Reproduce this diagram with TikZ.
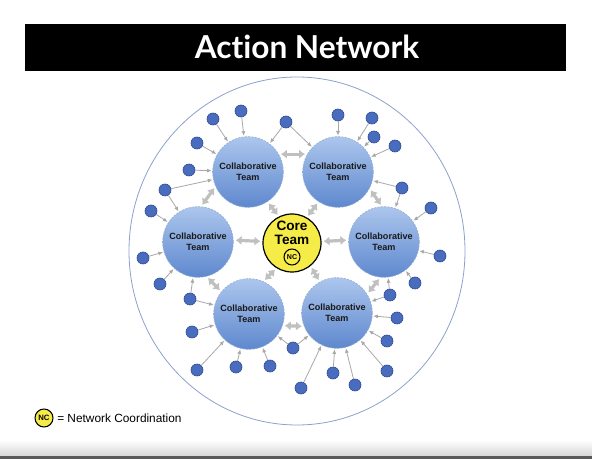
\documentclass[tikz,border=0pt]{standalone}
\usepackage{fontspec}
\setmainfont{Liberation Sans}
\newfontfamily\titlefont[Ligatures=NoCommon]{Lato}
\usetikzlibrary{arrows.meta}
\definecolor{teamtop}{RGB}{172,198,237}
\definecolor{teambot}{RGB}{94,136,206}
\definecolor{teamedge}{RGB}{150,176,216}
\definecolor{dotfill}{RGB}{74,108,190}
\definecolor{dotedge}{RGB}{46,76,146}
\definecolor{coreyellow}{RGB}{246,236,72}
\definecolor{linkgray}{RGB}{168,168,168}
\definecolor{biglinkgray}{RGB}{192,192,192}
\definecolor{ringblue}{RGB}{140,162,204}
\begin{document}
\begin{tikzpicture}[x=0.75pt,y=-0.75pt,
  team/.style={circle, minimum size=53pt, inner sep=0pt, top color=teamtop, bottom color=teambot,
    draw=teamedge, line width=0.5pt, dash pattern=on 1.5pt off 1pt, align=center,
    font=\fontsize{6.8pt}{7.9pt}\selectfont\bfseries, text=black!90},
  dotnode/.style={circle, minimum size=9pt, inner sep=0pt, fill=dotfill, draw=dotedge, line width=0.5pt},
  corenode/.style={circle, minimum size=43.5pt, inner sep=0pt, fill=coreyellow, draw=black, line width=0.9pt},
  ncnode/.style={circle, minimum size=12pt, inner sep=0pt, fill=coreyellow, draw=black, line width=0.8pt,
    font=\fontsize{5.3pt}{6pt}\selectfont\bfseries},
  link/.style={draw=linkgray, line width=0.6pt, -{Latex[length=3.5pt,width=3pt]}, shorten >=0.5pt},
  biglink/.style={draw=biglinkgray, line width=2.4pt, {Latex[length=4.5pt,width=7pt]}-{Latex[length=4.5pt,width=7pt]},
    shorten <=1.5pt, shorten >=1.5pt}
]
\useasboundingbox (0,0) rectangle (592,459);
\fill[white] (0,0) rectangle (592,459);
% screenshot bottom edge
\shade[top color=white, bottom color={rgb,255:red,214;green,214;blue,214}] (0,440) rectangle (592,456);
\fill[black!65] (0,456) rectangle (592,459);
% title bar
\fill[black] (25,24) rectangle (566,71);
\node[font=\titlefont\bfseries\fontsize{23.7pt}{26pt}\selectfont, text=white, anchor=base, inner sep=0pt] (title) at (307,59) {Action Network};
% outer ring
\draw[ringblue, line width=0.6pt, fill=white] (297,251) ellipse [x radius=168, y radius=174];
% teams
\node[team] (tl) at (248,172) {Collaborative\\Team};
\node[team] (tr) at (338,172) {Collaborative\\Team};
\node[team] (l)  at (198,242) {Collaborative\\Team};
\node[team] (r)  at (384,242) {Collaborative\\Team};
\node[team] (bl) at (249,314) {Collaborative\\Team};
\node[team] (br) at (337,313) {Collaborative\\Team};
% core
\node[corenode] (core) at (292,243) {};
\node[font=\fontsize{10.2pt}{10.6pt}\selectfont\bfseries, align=center, inner sep=0pt] (coretext) at (292,233) {Core\\Team};
\node[ncnode] (nc) at (292,257) {NC};
% dots
\foreach \n/\x/\y in {1/213/119, 2/241/111, 3/286/122, 4/197/143, 5/189/170, 6/165/190,
  7/151/211, 8/143/258, 9/160/284, 10/190/299, 11/192/332, 12/197/370, 13/236/367,
  14/270/366, 15/293/348, 16/301/388, 17/333/373, 18/355/385, 19/387/371, 20/387/341,
  21/397/318, 22/390/295, 23/415/283, 24/440/256, 25/431/208, 26/402/188, 27/395/146,
  28/374/137, 29/372/118, 30/338/115}
  \node[dotnode] (d\n) at (\x,\y) {};
% thin links
\foreach \n/\t in {1/tl, 2/tl, 3/tl, 3/tr, 4/tl, 5/tl, 6/tl, 6/l, 7/l, 8/l, 9/l, 10/l, 10/bl,
  11/bl, 12/bl, 13/bl, 14/bl, 15/bl, 15/br, 16/br, 17/br, 18/br, 19/br, 20/br, 21/br,
  22/br, 22/r, 23/r, 24/r, 25/r, 26/r, 26/tr, 27/tr, 28/tr, 29/tr, 30/tr}
  \draw[link] (d\n) -- (\t);
% thick double links
\draw[biglink] (tl.30) -- (tr.150);
\draw[biglink] (tl.-57) -- (core.116);
\draw[biglink] (tr.-123) -- (core.60);
\draw[biglink] (tr.-28) -- (r.93);
\draw[biglink] (l.85) -- (tl.204);
\draw[biglink] (l.3) -- (core.177);
\draw[biglink] (core.3) -- (r.177);
\draw[biglink] (core.-122) -- (bl.66);
\draw[biglink] (core.-51) -- (br.119);
\draw[biglink] (l.-76) -- (bl.141);
\draw[biglink] (r.-96) -- (br.32);
\draw[biglink] (bl.-19) -- (br.-158);
% legend
\node[ncnode, minimum size=13.5pt, font=\fontsize{5.8pt}{6pt}\selectfont\bfseries] (ncleg) at (44,418) {NC};
\node[anchor=west, font=\fontsize{8.9pt}{10pt}\selectfont, inner sep=0pt] (legtext) at (57,418.5) {= Network Coordination};
\end{tikzpicture}
\end{document}
